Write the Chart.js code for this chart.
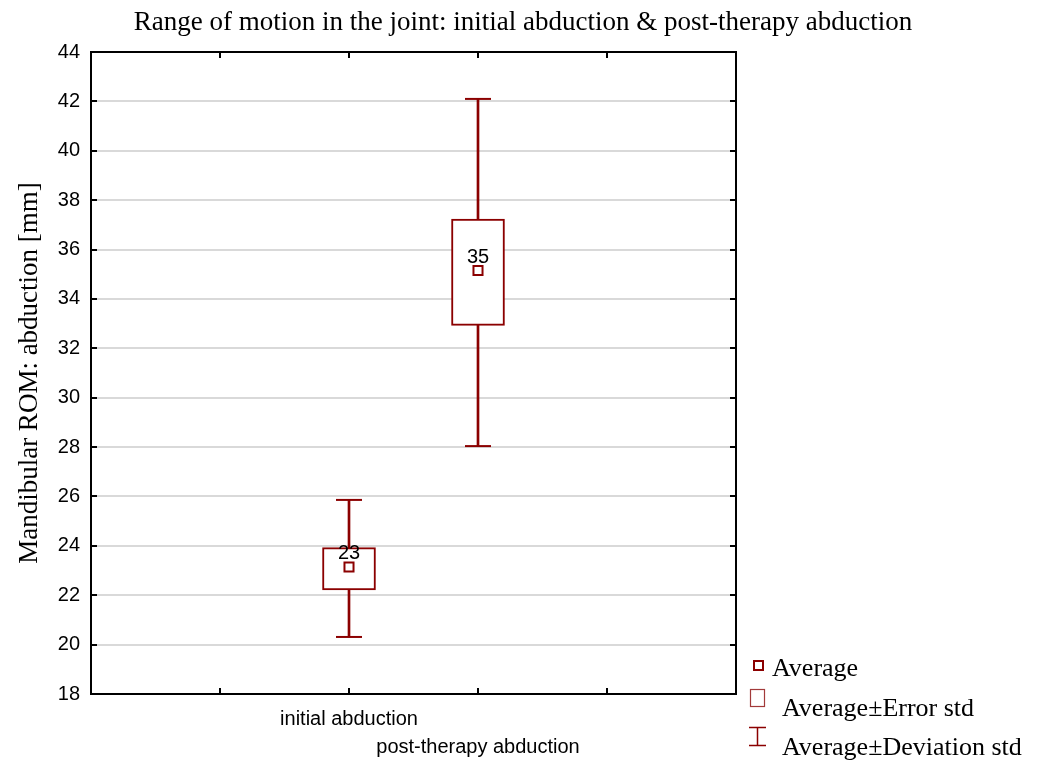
<!DOCTYPE html>
<html>
<head>
<meta charset="utf-8">
<script src="https://cdn.jsdelivr.net/npm/chart.js@4.4.1/dist/chart.umd.min.js"></script>
<style>
  html, body { margin: 0; padding: 0; background: #ffffff; }
  #wrap { width: 1046px; height: 763px; }
</style>
</head>
<body>
<div id="wrap"><canvas id="c" width="1046" height="763"></canvas></div>
<script>
// ---- data ----
const categories = ['initial abduction', 'post-therapy abduction'];
const means = [23.14, 35.15];
const errLow = [22.22, 32.93];
const errHigh = [23.93, 37.23];
const sdLow = [20.31, 28.04];
const sdHigh = [25.86, 42.10];
const yTicks = [18, 20, 22, 24, 26, 28, 30, 32, 34, 36, 38, 40, 42, 44];
const legendLabels = ['Average', 'Average\u00B1Error std', 'Average\u00B1Deviation std'];
const titleText = 'Range of motion in the joint: initial abduction & post-therapy abduction';
const yTitle = 'Mandibular ROM: abduction [mm]';

// axis slots: two empty slots on each side of the categories
const slotLabels = ['', ''].concat(categories, ['', '']);
const pad = arr => [null, null].concat(arr, [null, null]);

const RED = '#8B0000';
const SERIF = '"Liberation Serif", "Times New Roman", serif';
const SANS = '"Liberation Sans", Arial, sans-serif';

const framePlugin = {
  id: 'frame',
  afterDatasetsDraw(chart) {
    const ctx = chart.ctx;
    const x = chart.scales.x, y = chart.scales.y;
    ctx.save();
    ctx.fillStyle = '#000';
    ctx.font = '20px ' + SANS;
    ctx.textAlign = 'center';
    ctx.textBaseline = 'middle';
    means.forEach((m, i) => {
      const px = x.getPixelForValue(i + 2);
      const py = y.getPixelForValue(m);
      ctx.fillText(String(Math.round(m)), px, py - 13.5);
    });
    ctx.restore();
  },
  afterDraw(chart) {
    const ctx = chart.ctx;
    const a = chart.chartArea;
    const x = chart.scales.x, y = chart.scales.y;
    ctx.save();
    ctx.strokeStyle = '#000';
    ctx.lineWidth = 2;
    ctx.beginPath();
    ctx.rect(a.left, a.top, a.right - a.left, a.bottom - a.top);
    ctx.stroke();
    const tl = 6;
    ctx.beginPath();
    yTicks.forEach(v => {
      const py = Math.round(y.getPixelForValue(v));
      ctx.moveTo(a.left, py); ctx.lineTo(a.left + tl, py);
      ctx.moveTo(a.right, py); ctx.lineTo(a.right - tl, py);
    });
    for (let i = 1; i < slotLabels.length - 1; i++) {
      const px = Math.round(x.getPixelForValue(i));
      ctx.moveTo(px, a.bottom); ctx.lineTo(px, a.bottom - tl);
      ctx.moveTo(px, a.top); ctx.lineTo(px, a.top + tl);
    }
    ctx.stroke();

    // legend
    ctx.fillStyle = '#000';
    ctx.font = '26px ' + SERIF;
    ctx.textAlign = 'left';
    ctx.textBaseline = 'alphabetic';
    ctx.fillText(legendLabels[0], 772, 676);
    ctx.fillText(legendLabels[1], 782, 716);
    ctx.fillText(legendLabels[2], 782, 755);
    ctx.strokeStyle = RED;
    ctx.lineWidth = 2;
    ctx.strokeRect(754, 661, 9, 9);
    ctx.strokeStyle = '#a23a3a';
    ctx.lineWidth = 1.2;
    ctx.strokeRect(750.5, 689.5, 14, 17);
    ctx.strokeStyle = RED;
    ctx.lineWidth = 1.5;
    ctx.beginPath();
    ctx.moveTo(757.5, 727); ctx.lineTo(757.5, 746);
    ctx.moveTo(749, 727.5); ctx.lineTo(766, 727.5);
    ctx.moveTo(749, 745.5); ctx.lineTo(766, 745.5);
    ctx.stroke();
    ctx.restore();
  }
};

new Chart(document.getElementById('c'), {
  type: 'bar',
  data: {
    labels: slotLabels,
    datasets: [
      {
        label: 'Average\u00B1Deviation std',
        data: pad(sdLow.map((v, i) => [v, sdHigh[i]])),
        backgroundColor: RED,
        borderWidth: 0,
        barThickness: 2,
        grouped: false,
        order: 4
      },
      {
        label: 'Average\u00B1Error std',
        data: pad(errLow.map((v, i) => [v, errHigh[i]])),
        backgroundColor: '#ffffff',
        borderColor: RED,
        borderWidth: 2,
        borderSkipped: false,
        barThickness: 53,
        grouped: false,
        order: 3
      },
      {
        type: 'line',
        label: 'caps high',
        data: pad(sdHigh),
        showLine: false,
        pointStyle: 'line',
        pointRadius: 13,
        pointBorderWidth: 2,
        pointBorderColor: RED,
        order: 2
      },
      {
        type: 'line',
        label: 'caps low',
        data: pad(sdLow),
        showLine: false,
        pointStyle: 'line',
        pointRadius: 13,
        pointBorderWidth: 2,
        pointBorderColor: RED,
        order: 2
      },
      {
        type: 'line',
        label: 'Average',
        data: pad(means),
        showLine: false,
        pointStyle: 'rect',
        pointRadius: 6.4,
        pointBorderWidth: 2,
        pointBorderColor: RED,
        pointBackgroundColor: '#ffffff',
        order: 1
      }
    ]
  },
  options: {
    responsive: false,
    animation: false,
    events: [],
    layout: { padding: 0 },
    plugins: {
      legend: { display: false },
      tooltip: { enabled: false },
      title: {
        display: true,
        text: titleText,
        color: '#000',
        font: { family: SERIF, size: 27, weight: 'normal', lineHeight: 1.2 },
        padding: { top: 7, bottom: 12.6 }
      }
    },
    scales: {
      x: {
        type: 'category',
        offset: false,
        grid: { display: false, drawTicks: false },
        border: { display: false },
        ticks: {
          autoSkip: false,
          maxRotation: 0,
          minRotation: 0,
          padding: 11,
          color: '#000',
          font: { family: SANS, size: 20, lineHeight: 1.4 },
          callback: function (value, index) {
            const lbl = this.getLabelForValue(value);
            return index === 3 ? ['', lbl] : lbl;
          }
        },
        afterFit: s => { s.height = 69; }
      },
      y: {
        position: 'left',
        min: 18,
        max: 44,
        grid: { color: '#d9d9d9', lineWidth: 2, drawTicks: false },
        border: { display: false },
        ticks: {
          stepSize: 2,
          padding: 11,
          color: '#000',
          font: { family: SANS, size: 20 }
        },
        title: {
          display: true,
          text: yTitle,
          color: '#000',
          font: { family: SERIF, size: 27, weight: 'normal', lineHeight: 1.2 },
          padding: { top: 14, bottom: 0 }
        },
        afterFit: s => { s.width = 91; }
      },
      yr: {
        position: 'right',
        min: 0,
        max: 1,
        grid: { display: false, drawTicks: false },
        border: { display: false },
        ticks: { display: false },
        afterFit: s => { s.width = 310; }
      }
    }
  },
  plugins: [framePlugin]
});
</script>
</body>
</html>
